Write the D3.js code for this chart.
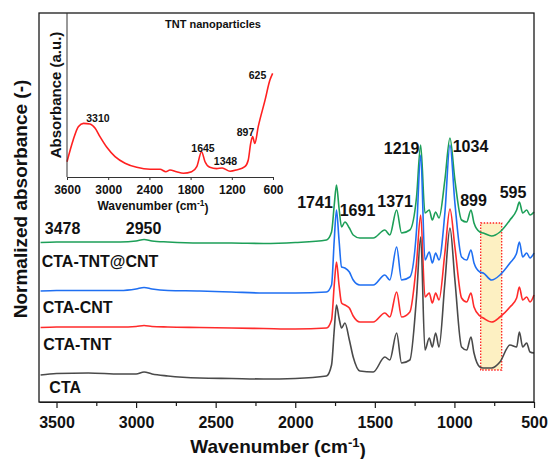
<!DOCTYPE html>
<meta charset="utf-8">
<style>

body { margin: 0; background: #fff; }

svg { display: block; font-family: Arial, "Liberation Sans", sans-serif; }

.frame { fill: none; stroke: #1a1a1a; stroke-width: 1.3; }

.spectrum { fill: none; stroke-width: 1.6; stroke-linejoin: round; }

.axis path, .axis line { stroke: #1a1a1a; stroke-width: 1.2; }

.axis text { font-size: 16px; font-weight: bold; fill: #111; }

.inset-axis path, .inset-axis line { stroke: #333; stroke-width: 1; }

.inset-axis text { font-size: 12px; font-weight: bold; fill: #111; }

.labels text { font-size: 16px; font-weight: bold; fill: #111; }

.inset-labels text { font-size: 10.5px; font-weight: bold; fill: #111; }

</style>
<svg width="550" height="459"></svg>
<script src="https://d3js.org/d3.v7.min.js"></script>
<script>

// FTIR spectra (offset normalized absorbance)
var wavenumber = [3600, 3500, 3300, 3100, 3000, 2950, 2900, 2800, 2600, 2400, 2200, 2000,
  1804, 1772, 1755, 1741, 1725, 1709, 1688, 1660, 1636, 1594, 1510, 1437, 1406, 1363,
  1332, 1280, 1238, 1212, 1185, 1158, 1139, 1118, 1097, 1060, 1028, 997, 955, 923, 896,
  877, 840, 819, 766, 714, 651, 609, 592, 571, 546, 525, 500];

var cta = [0.27, 0.285, 0.29, 0.28, 0.28, 0.30, 0.28, 0.26, 0.24, 0.235, 0.23, 0.235,
  0.26, 0.37, 0.72, 0.97, 0.84, 0.74, 0.79, 0.62, 0.45, 0.31, 0.30, 0.45, 0.42, 0.69,
  0.39, 0.42, 1.05, 1.65, 0.52, 0.64, 0.55, 0.69, 0.55, 1.19, 1.74, 1.22, 0.55, 0.52, 0.65,
  0.49, 0.35, 0.34, 0.34, 0.40, 0.57, 0.55, 0.70, 0.55, 0.59, 0.50, 0.49];

var ctaTnt = [0.745, 0.75, 0.75, 0.75, 0.755, 0.765, 0.755, 0.75, 0.745, 0.74, 0.735, 0.73,
  0.74, 0.82, 1.17, 1.40, 1.17, 0.99, 0.97, 0.94, 0.86, 0.80, 0.80, 0.89, 0.85, 1.10,
  0.85, 0.90, 1.39, 1.87, 1.05, 1.09, 0.99, 1.09, 1.02, 1.49, 1.93, 1.55, 1.04, 1.00, 1.09,
  0.95, 0.86, 0.84, 0.80, 0.85, 0.95, 1.04, 1.15, 1.02, 1.05, 1.00, 1.07];

var ctaCnt = [1.11, 1.115, 1.115, 1.115, 1.13, 1.145, 1.13, 1.115, 1.11, 1.10, 1.09, 1.09,
  1.10, 1.17, 1.62, 1.92, 1.62, 1.35, 1.34, 1.30, 1.22, 1.17, 1.17, 1.27, 1.22, 1.55,
  1.22, 1.25, 1.72, 2.47, 1.42, 1.50, 1.39, 1.49, 1.42, 1.89, 2.57, 1.99, 1.45, 1.42, 1.52,
  1.39, 1.30, 1.29, 1.22, 1.27, 1.39, 1.49, 1.60, 1.45, 1.49, 1.44, 1.49];

var ctaTntCnt = [1.595, 1.60, 1.60, 1.60, 1.61, 1.625, 1.61, 1.60, 1.59, 1.59, 1.585, 1.595,
  1.62, 1.70, 1.97, 2.17, 1.94, 1.75, 1.80, 1.74, 1.67, 1.64, 1.64, 1.72, 1.67, 1.92,
  1.69, 1.72, 2.05, 2.57, 1.89, 1.92, 1.82, 1.90, 1.84, 2.22, 2.64, 2.22, 1.82, 1.80, 1.92,
  1.79, 1.70, 1.69, 1.66, 1.70, 1.82, 1.92, 2.00, 1.89, 1.92, 1.87, 1.90];

var seriesNames = ["CTA-TNT@CNT", "CTA-CNT", "CTA-TNT", "CTA"];
var seriesValues = [ctaTntCnt, ctaCnt, ctaTnt, cta];
var seriesColors = ["#1d9f58", "#1f6ff2", "#ff2b2b", "#4a4a4a"];

// series name anchors [wavenumber, level]
var seriesLabelAnchors = [[3593, 1.35], [3587, 0.895], [3583, 0.52], [3545, 0.095]];

// band labels [text, wavenumber, level]
var bandLabels = [["1741", 1876, 1.945], ["1691", 1609, 1.865], ["1371", 1373, 1.95],
  ["1219", 1332, 2.48], ["1034", 899, 2.505], ["899", 880, 1.96], ["595", 632, 2.04],
  ["3478", 3462, 1.68], ["2950", 2953, 1.68]];

// highlighted band
var highlightRange = [835, 703];
var highlightLevels = [0.32, 1.79];

var xTicks = [3500, 3000, 2500, 2000, 1500, 1000, 500];
var xMinorTicks = [3250, 2750, 2250, 1750, 1250, 750];

// inset: TNT nanoparticles
var insetWavenumber = [3600, 3510, 3435, 3360, 3265, 3190, 3120, 3020, 2900, 2755, 2585,
  2390, 2245, 2160, 2100, 2005, 1905, 1785, 1710, 1640, 1590, 1520, 1420, 1340, 1225,
  1130, 1010, 960, 925, 897, 865, 815, 715, 645, 605];
var insetAbsorbance = [0.093, 0.226, 0.307, 0.327, 0.323, 0.297, 0.246, 0.181, 0.124, 0.084,
  0.059, 0.047, 0.047, 0.032, 0.043, 0.032, 0.023, 0.032, 0.063, 0.154, 0.093, 0.059,
  0.051, 0.055, 0.035, 0.043, 0.063, 0.104, 0.205, 0.246, 0.205, 0.307, 0.470, 0.591, 0.632];
var insetTicks = [3600, 3000, 2400, 1800, 1200, 600];
var insetLabels = [["3310", 3149, 0.338], ["1645", 1619, 0.152], ["1348", 1292, 0.073],
  ["897", 1000, 0.253], ["625", 826, 0.598]];


var svg = d3.select("svg");

var x = d3.scaleLinear().domain([3610, 500]).range([39, 534]);
var y = d3.scaleLinear().domain([0, 3.89]).range([402, 13]);

var line = d3.line()
    .x(function(d) { return x(d[0]); })
    .y(function(d) { return y(d[1]); })
    .curve(d3.curveMonotoneX);

// highlight box behind spectra
svg.append("rect")
    .attr("x", x(highlightRange[0]))
    .attr("y", y(highlightLevels[1]))
    .attr("width", x(highlightRange[1]) - x(highlightRange[0]))
    .attr("height", y(highlightLevels[0]) - y(highlightLevels[1]))
    .attr("fill", "#fdf0c2")
    .attr("stroke", "#f22")
    .attr("stroke-width", 1.3)
    .attr("stroke-dasharray", "1.5,1.5");

svg.append("g")
  .selectAll("path")
  .data(seriesValues)
  .enter().append("path")
    .attr("class", "spectrum")
    .attr("stroke", function(d, i) { return seriesColors[i]; })
    .attr("d", function(d) { return line(d.map(function(v, i) { return [wavenumber[i], v]; })); });

// x axis
svg.append("g")
    .attr("class", "axis")
    .attr("transform", "translate(0," + y.range()[0] + ")")
    .call(d3.axisBottom(x).tickValues(xTicks).tickSizeInner(6).tickSizeOuter(0).tickPadding(9).tickFormat(d3.format("d")));

svg.append("g")
    .attr("class", "axis")
    .attr("transform", "translate(0," + y.range()[0] + ")")
    .call(d3.axisBottom(x).tickValues(xMinorTicks).tickSizeInner(4).tickSizeOuter(0).tickFormat(""))
    .select(".domain").remove();

svg.append("rect")
    .attr("class", "frame")
    .attr("x", x.range()[0])
    .attr("y", y.range()[1])
    .attr("width", x.range()[1] - x.range()[0])
    .attr("height", y.range()[0] - y.range()[1]);

svg.append("text")
    .attr("x", 278)
    .attr("y", 453)
    .attr("text-anchor", "middle")
    .attr("font-size", 19)
    .attr("font-weight", "bold")
    .attr("fill", "#111")
    .text("Wavenumber (cm")
  .append("tspan")
    .attr("dy", "-0.5em")
    .attr("font-size", 13)
    .text("-1")
  .select(function() { return this.parentNode; })
  .append("tspan")
    .attr("dy", "0.5em")
    .text(")");

svg.append("text")
    .attr("transform", "translate(27,199) rotate(-90)")
    .attr("text-anchor", "middle")
    .attr("font-size", 19)
    .attr("font-weight", "bold")
    .attr("fill", "#111")
    .text("Normalized absorbance (-)");

var labels = svg.append("g").attr("class", "labels");

labels.selectAll("text.series")
  .data(seriesNames)
  .enter().append("text")
    .attr("class", "series")
    .attr("x", function(d, i) { return x(seriesLabelAnchors[i][0]); })
    .attr("y", function(d, i) { return y(seriesLabelAnchors[i][1]); })
    .text(function(d) { return d; });

labels.selectAll("text.band")
  .data(bandLabels)
  .enter().append("text")
    .attr("class", "band")
    .attr("text-anchor", "middle")
    .attr("x", function(d) { return x(d[1]); })
    .attr("y", function(d) { return y(d[2]); })
    .text(function(d) { return d[0]; });

// inset
var ix = d3.scaleLinear().domain([3600, 600]).range([67, 273]);
var iy = d3.scaleLinear().domain([0, 1]).range([177, 13]);

var insetLine = d3.line()
    .x(function(d) { return ix(d[0]); })
    .y(function(d) { return iy(d[1]); })
    .curve(d3.curveMonotoneX);

svg.append("path")
    .attr("class", "spectrum")
    .attr("stroke", "#ff2020")
    .attr("d", insetLine(insetAbsorbance.map(function(v, i) { return [insetWavenumber[i], v]; })));

svg.append("g")
    .attr("class", "inset-axis")
    .attr("transform", "translate(0," + iy.range()[0] + ")")
    .call(d3.axisBottom(ix).tickValues(insetTicks).tickSizeInner(3).tickSizeOuter(0).tickPadding(5).tickFormat(d3.format("d")));

svg.append("line")
    .attr("x1", ix.range()[0]).attr("x2", ix.range()[0])
    .attr("y1", iy.range()[0]).attr("y2", iy.range()[1])
    .attr("stroke", "#333");

svg.append("text")
    .attr("x", 153)
    .attr("y", 210)
    .attr("text-anchor", "middle")
    .attr("font-size", 12)
    .attr("font-weight", "bold")
    .attr("fill", "#111")
    .text("Wavenumber (cm")
  .append("tspan")
    .attr("dy", "-0.5em")
    .attr("font-size", 8.5)
    .text("-1")
  .select(function() { return this.parentNode; })
  .append("tspan")
    .attr("dy", "0.5em")
    .text(")");

svg.append("text")
    .attr("transform", "translate(61,95) rotate(-90)")
    .attr("text-anchor", "middle")
    .attr("font-size", 15)
    .attr("font-weight", "bold")
    .attr("fill", "#111")
    .text("Absorbance (a.u.)");

svg.append("text")
    .attr("x", 213)
    .attr("y", 28)
    .attr("text-anchor", "middle")
    .attr("font-size", 11)
    .attr("font-weight", "bold")
    .attr("fill", "#111")
    .text("TNT nanoparticles");

svg.append("g")
    .attr("class", "inset-labels")
  .selectAll("text")
  .data(insetLabels)
  .enter().append("text")
    .attr("text-anchor", "middle")
    .attr("x", function(d) { return ix(d[1]); })
    .attr("y", function(d) { return iy(d[2]); })
    .text(function(d) { return d[0]; });

</script>
